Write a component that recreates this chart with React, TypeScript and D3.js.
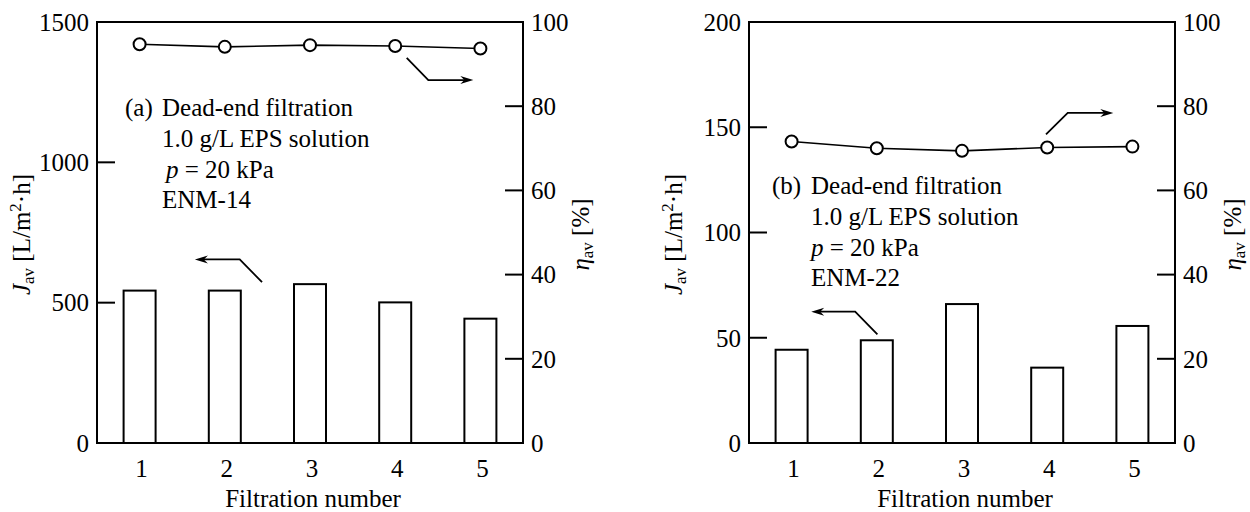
import React from "react";
import * as d3 from "d3";

const categories = [1, 2, 3, 4, 5];
const fluxA = [543, 543, 566, 501, 443];
const rejectionA = [94.7, 94.1, 94.5, 94.3, 93.7];
const fluxB = [44.3, 48.8, 66.0, 35.8, 55.6];
const rejectionB = [71.6, 70.0, 69.4, 70.2, 70.4];
const fluxTicksA = [0, 500, 1000, 1500];
const fluxTicksB = [0, 50, 100, 150, 200];
const rejTicks = [0, 20, 40, 60, 80, 100];
const notesA = ["Dead-end filtration", "1.0 g/L EPS solution", "p = 20 kPa", "ENM-14"];
const notesB = ["Dead-end filtration", "1.0 g/L EPS solution", "p = 20 kPa", "ENM-22"];

const FONT = '"Liberation Serif", "Times New Roman", Times, "DejaVu Serif", serif';
const FS = 25;

type Arrow = { pts: [number, number][] };

type PanelProps = {
  x0: number;
  fluxMax: number;
  fluxTicks: number[];
  flux: number[];
  rej: number[];
  tag: string;
  notes: string[];
  noteX: number;
  bodyX: number;
  pIndent: number;
  noteY: number;
  arrows: Arrow[];
};

function arrowHead(x: number, y: number, dir: number) {
  const L = 13, W = 4, N = 9;
  return `M${x},${y} L${x - dir * L},${y - W} L${x - dir * N},${y} L${x - dir * L},${y + W} Z`;
}

function Panel(p: PanelProps) {
  const W = 426;
  const top = 22, bottom = 443;
  const x0 = p.x0, x1 = p.x0 + W;
  const xPt = d3.scalePoint<number>().domain(categories).range([x0, x1]).padding(0.5);
  const xLin = d3.scaleLinear().domain([0.5, 5.5]).range([x0, x1]);
  const yL = d3.scaleLinear().domain([0, p.fluxMax]).range([bottom, top]);
  const yR = d3.scaleLinear().domain([0, 100]).range([bottom, top]);
  const barW = 32;
  const line = d3
    .line<number>()
    .x((_, i) => xPt(categories[i])!)
    .y((d) => yR(d));
  const tickLen = 18;
  const cx = (x0 + x1) / 2;
  const cy = (top + bottom) / 2;
  const lineGap = 30.8;
  return (
    <g style={{ fontFamily: FONT }} fontSize={FS} fill="#000">
      {p.flux.map((v, i) => (
        <rect
          key={"b" + i}
          x={xPt(categories[i])! - barW / 2}
          y={yL(v)}
          width={barW}
          height={bottom - yL(v)}
          fill="#fff"
          stroke="#000"
          strokeWidth={2}
        />
      ))}
      <rect x={x0} y={top} width={W} height={bottom - top} fill="none" stroke="#000" strokeWidth={2} />
      {p.fluxTicks.map((t) => (
        <g key={"l" + t}>
          {t > 0 && t < p.fluxMax && (
            <line x1={x0} x2={x0 + tickLen} y1={yL(t)} y2={yL(t)} stroke="#000" strokeWidth={2} />
          )}
          <text x={x0 - 8} y={yL(t)} dy="0.35em" textAnchor="end">
            {t}
          </text>
        </g>
      ))}
      {rejTicks.map((t) => (
        <g key={"r" + t}>
          {t > 0 && t < 100 && (
            <line x1={x1} x2={x1 - tickLen} y1={yR(t)} y2={yR(t)} stroke="#000" strokeWidth={2} />
          )}
          <text x={x1 + 8} y={yR(t)} dy="0.35em" textAnchor="start">
            {t}
          </text>
        </g>
      ))}
      {categories.map((c) => (
        <text key={"x" + c} x={xPt(c)! + 2} y={477} textAnchor="middle">
          {c}
        </text>
      ))}
      <text x={cx + 3} y={507} textAnchor="middle">
        Filtration number
      </text>
      <text transform={`translate(${x0 - 67},${cy + 2}) rotate(-90)`} textAnchor="middle">
        <tspan fontStyle="italic">J</tspan>
        <tspan fontSize={FS * 0.68} dy={4}>av</tspan>
        <tspan dy={-4}> [L/m</tspan>
        <tspan fontSize={FS * 0.68} dy={-9}>2</tspan>
        <tspan dy={9}>·h]</tspan>
      </text>
      <text transform={`translate(${x1 + 66},${cy + 2}) rotate(-90)`} textAnchor="middle">
        <tspan fontStyle="italic">η</tspan>
        <tspan fontSize={FS * 0.68} dy={4}>av</tspan>
        <tspan dy={-4}> [%]</tspan>
      </text>
      <path d={line(p.rej) || ""} fill="none" stroke="#000" strokeWidth={1.6} />
      {p.rej.map((v, i) => (
        <circle key={"c" + i} cx={xPt(categories[i])!} cy={yR(v)} r={6} fill="#fff" stroke="#000" strokeWidth={2} />
      ))}
      {p.arrows.map((a, k) => {
        const pts = a.pts.map(([kx, ky]) => [xLin(kx), yR(ky)] as [number, number]);
        const last = pts[pts.length - 1];
        const prev = pts[pts.length - 2];
        const dir = last[0] > prev[0] ? 1 : -1;
        const shaft = pts.map((q, j) => (j === pts.length - 1 ? [q[0] - dir * 8, q[1]] : q)) as [number, number][];
        return (
          <g key={"a" + k}>
            <path d={d3.line()(shaft) || ""} fill="none" stroke="#000" strokeWidth={1.8} />
            <path d={arrowHead(last[0], last[1], dir)} fill="#000" />
          </g>
        );
      })}
      <text x={x0 + p.noteX} y={p.noteY}>{p.tag}</text>
      {p.notes.map((s, i) => {
        const y = p.noteY + i * lineGap;
        if (s.startsWith("p "))
          return (
            <text key={"n" + i} x={x0 + p.bodyX + p.pIndent} y={y}>
              <tspan fontStyle="italic">p</tspan>
              {s.slice(1)}
            </text>
          );
        return (
          <text key={"n" + i} x={x0 + p.bodyX} y={y}>
            {s}
          </text>
        );
      })}
    </g>
  );
}

export default function App() {
  return (
    <svg
      width={1250}
      height={512}
      style={{ position: "absolute", left: 0, top: 0, display: "block", background: "#fff" }}
    >
      <Panel
        x0={97}
        fluxMax={1500}
        fluxTicks={fluxTicksA}
        flux={fluxA}
        rej={rejectionA}
        tag="(a)"
        notes={notesA}
        noteX={28}
        bodyX={65}
        pIndent={4}
        noteY={116}
        arrows={[
          { pts: [[4.135, 91.5], [4.389, 86.2], [4.917, 86.2]] },
          { pts: [[2.437, 38.2], [2.175, 43.6], [1.649, 43.6]] },
        ]}
      />
      <Panel
        x0={749}
        fluxMax={200}
        fluxTicks={fluxTicksB}
        flux={fluxB}
        rej={rejectionB}
        tag="(b)"
        notes={notesB}
        noteX={23}
        bodyX={62}
        pIndent={0}
        noteY={194}
        arrows={[
          { pts: [[2.007, 25.8], [1.746, 31.2], [1.23, 31.2]] },
          { pts: [[3.986, 73.3], [4.241, 78.4], [4.776, 78.4]] },
        ]}
      />
    </svg>
  );
}
